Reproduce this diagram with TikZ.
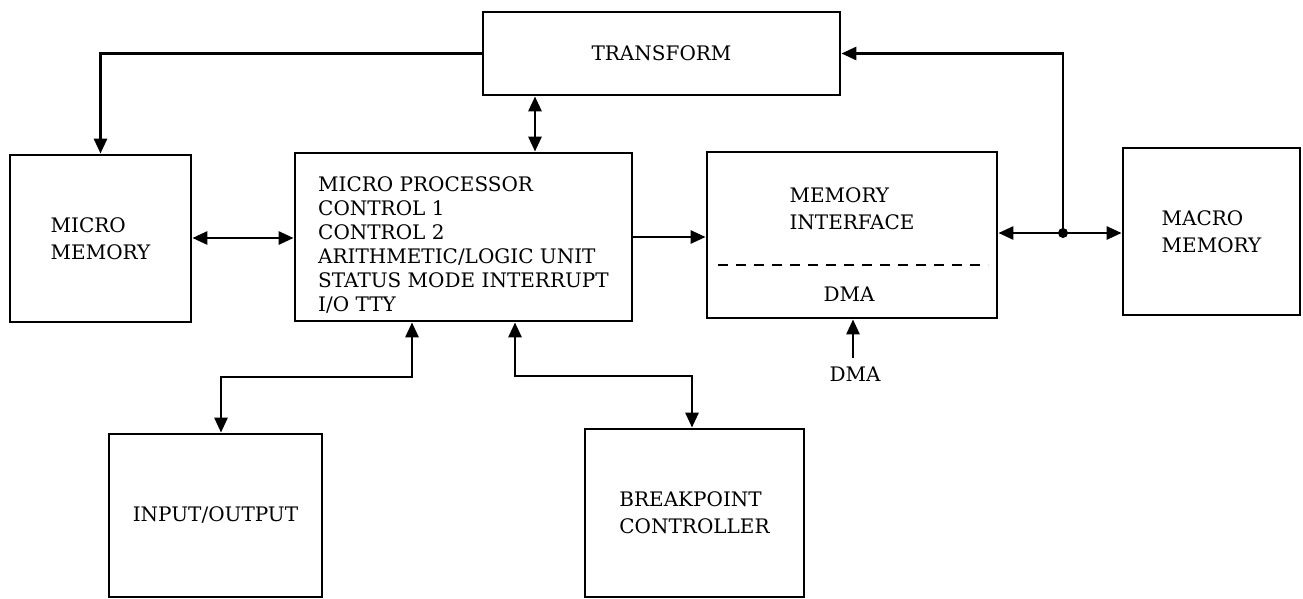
\documentclass[tikz,border=0pt]{standalone}
\usepackage{fontspec}
\setmainfont{DejaVu Serif}
\usetikzlibrary{arrows.meta}
\begin{document}
\begin{tikzpicture}[x=1pt,y=-1pt,
  box/.style={draw, line width=2.8pt, inner sep=0pt, align=left,
    font=\fontsize{20}{27}\selectfont},
  lbl/.style={inner sep=0pt, align=left, font=\fontsize{20}{27}\selectfont},
  lines/.style={inner sep=0pt, align=left, font=\fontsize{20}{24}\selectfont},
  tip/.tip={Triangle[length=15pt,width=13pt]},
  link/.style={line width=2.8pt, -tip},
  both/.style={line width=2.8pt, tip-tip}]
\useasboundingbox (0,0) rectangle (1303,599);

% blocks
\node[box, minimum width=357pt, minimum height=83pt] (tr) at (661.5,53.5) {TRANSFORM};
\node[box, minimum width=181pt, minimum height=167pt] (mm) at (100.5,238.5) {MICRO\\MEMORY};
\node[box, minimum width=337pt, minimum height=168pt] (mp) at (463.5,237) {};
\node[box, minimum width=290pt, minimum height=166pt] (mi) at (852,235) {};
\node[box, minimum width=177pt, minimum height=167pt] (mac) at (1211.5,231.5) {MACRO\\MEMORY};
\node[box, minimum width=213pt, minimum height=163pt] (io) at (215.5,515.5) {INPUT/OUTPUT};
\node[box, minimum width=219pt, minimum height=168pt] (bp) at (694.5,513) {BREAKPOINT\\CONTROLLER};

% text inside the processor and the memory interface
\node[lines, anchor=north west] (mptext) at (318,176)
  {MICRO PROCESSOR\\CONTROL 1\\CONTROL 2\\ARITHMETIC/LOGIC UNIT\\STATUS MODE INTERRUPT\\I/O TTY};
\node[lbl] (mitext) at (852,208.5) {MEMORY\\INTERFACE};
\node[lbl] (midma) at (849,294) {DMA};
\coordinate (dashL) at (718,265);
\coordinate (dashR) at (988,265);
\draw[line width=2.8pt, dash pattern=on 10pt off 8pt] (dashL) -- (dashR);

% DMA request
\node[lbl] (dmain) at (855,374) {DMA};
\coordinate (dtail) at (853,358);
\draw[link] (dtail) -- (mi.south -| dtail);

% transform links
\draw[link] (tr.west) -| (mm.north);
\coordinate (tx) at (535,0);
\draw[both] (tr.south -| tx) -- (mp.north -| tx);

% memory bus with junction
\coordinate (j) at (1063,233);
\draw[link] (j) |- (tr.east);
\draw[link] (j) -- (mi.east |- j);
\draw[link] (j) -- (mac.west |- j);
\fill (j) circle (5pt);

% processor links
\coordinate (rowA) at (0,238);
\coordinate (rowB) at (0,237);
\draw[both] (mm.east |- rowA) -- (mp.west |- rowA);
\draw[link] (mp.east |- rowB) -- (mi.west |- rowB);

\coordinate (ioup) at (412,377);
\coordinate (iodn) at (221,377);
\draw[both] (mp.south -| ioup) -- (ioup) -- (iodn) -- (io.north -| iodn);

\coordinate (bpup) at (515,376);
\coordinate (bpdn) at (692,376);
\draw[both] (mp.south -| bpup) -- (bpup) -- (bpdn) -- (bp.north -| bpdn);
\end{tikzpicture}
\end{document}
